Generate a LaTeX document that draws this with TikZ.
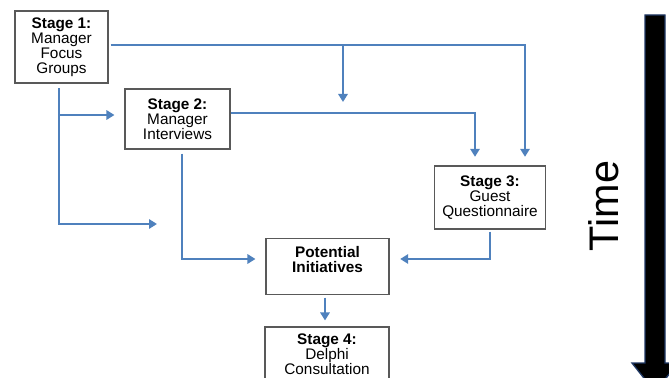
\documentclass[tikz,border=0pt]{standalone}
\usepackage{fontspec}
\setmainfont{Liberation Sans}
\usetikzlibrary{arrows.meta,calc}
\definecolor{flowblue}{HTML}{4F81BD}
\definecolor{boxgray}{HTML}{595959}
\definecolor{timeedge}{HTML}{1F3864}
\tikzset{
  stagefont/.style={font=\fontsize{11.5}{11.25}\selectfont},
  stagebox/.style={rectangle, draw=boxgray, line width=0.8pt, fill=white, align=center, inner sep=0pt, stagefont},
  flowarr/.style={-{Triangle[length=6pt,width=7pt]}, line width=2.2pt, draw=flowblue},
  timebar/.style={fill=black, draw=timeedge, line width=1pt},
}
\begin{document}
\begin{tikzpicture}[x=0.75pt,y=-0.75pt]
  \useasboundingbox (0,0) rectangle (669,378);
  \node[stagebox, minimum width=69.75pt, minimum height=54pt] (s1) at (61.5,47) {\textbf{Stage 1:}\\Manager\\Focus\\Groups};
  \node[stagebox, minimum width=78.75pt, minimum height=45pt] (s2) at (177.5,119) {\textbf{Stage 2:}\\Manager\\Interviews};
  \node[stagebox, minimum width=83.25pt, minimum height=47.25pt] (s3) at (490,197.5) {\textbf{Stage 3:}\\Guest\\Questionnaire};
  \node[stagebox, minimum width=92.25pt, minimum height=42pt] (pi) at (327.5,266.5) {\textbf{Potential}\\\textbf{Initiatives}\\~};
  \node[stagebox, minimum width=93pt, minimum height=40.5pt] (s4) at (327,354) {\textbf{Stage 4:}\\Delphi\\Consultation};
  \node[rotate=90, inner sep=0pt, font=\fontsize{31}{31}\selectfont] (time) at (604,206) {Time};
  % free ends and rows
  \coordinate (e1) at (343,102);
  \coordinate (e2) at (157,224);
  \coordinate (rowA) at (0,259);
  \draw[flowarr, shorten <=1.5pt, shorten >=6.5pt] (s1.east |- 0,45) -| ($(s3.north)+(35,0)$);
  \draw[flowarr] (s1.east -| e1) ++(0,-2) -- (e1);
  \draw[flowarr, shorten >=6.5pt] (s2.east |- 0,113) -| ($(s3.north)+(-15,0)$);
  \draw[flowarr, shorten <=3.5pt] (s1.south -| 59,0) |- (e2);
  \draw[flowarr, shorten >=7.5pt] (59,115) -- (s2.west |- 0,115);
  \draw[flowarr, shorten <=3pt, shorten >=7.5pt] (s2.south -| 182,0) |- (pi.west |- rowA);
  \draw[flowarr, shorten <=1.5pt, shorten >=8pt] (s3.south) |- (pi.east |- rowA);
  \draw[flowarr, shorten <=2pt, shorten >=4.5pt] (pi.south -| 325,0) -- (s4.north -| 325,0);
  % time arrow
  \filldraw[timebar] (645,15) -- (665,15) -- (665,363) -- (678,363) -- (655,392) -- (632,363) -- (645,363) -- cycle;
\end{tikzpicture}
\end{document}
